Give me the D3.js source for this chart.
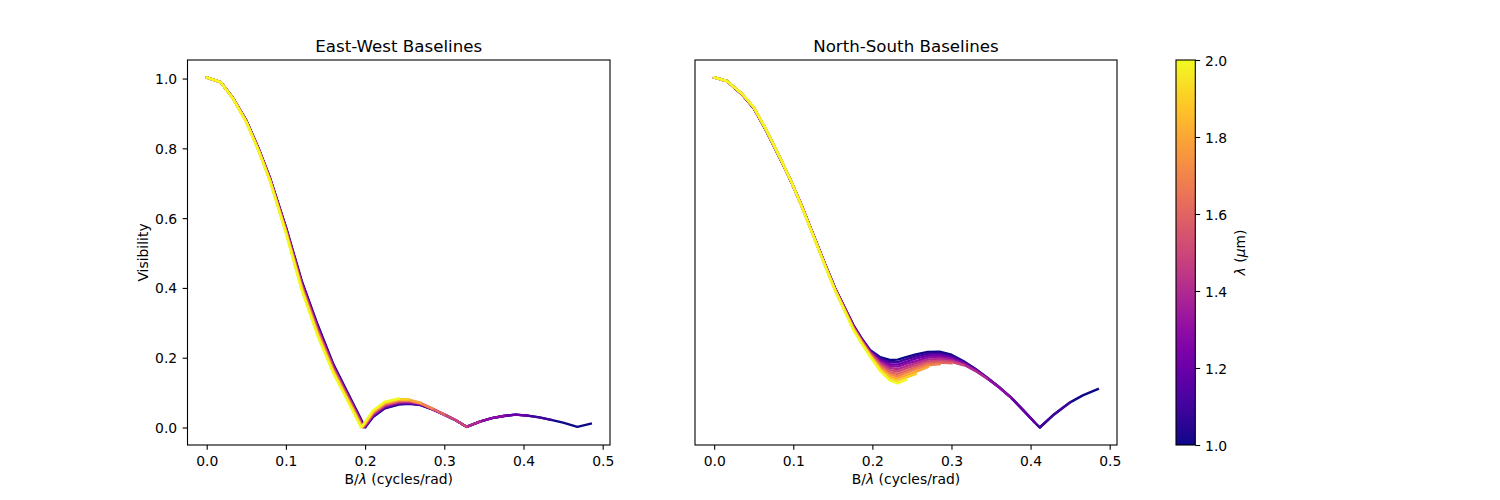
<!DOCTYPE html>
<html>
<head>
<meta charset="utf-8">
<script src="https://cdn.jsdelivr.net/npm/d3@7"></script>
<style>
  body { margin: 0; background: #fff; }
  svg text { font-family: "DejaVu Sans", sans-serif; fill: #000; }
</style>
</head>
<body>
<svg id="chart"></svg>
<script>
//Wavelengths of the plotted curves (um), one line each
const wavelengths = [1.0, 1.1, 1.2, 1.3, 1.4, 1.5, 1.6, 1.7, 1.8, 1.9, 2.0];

//East-West: spatial frequency grid (cycles/rad) and visibility per wavelength
//rows get shorter for longer wavelengths (B/lambda range shrinks)
const ewFreq = [0, 0.0175, 0.033, 0.05, 0.066, 0.08, 0.1, 0.12, 0.14, 0.16, 0.175, 0.185, 0.193, 0.195, 0.1975, 0.2,
    0.21, 0.225, 0.2425, 0.255, 0.27, 0.285, 0.3, 0.315, 0.328, 0.345, 0.36, 0.375, 0.39, 0.405, 0.42, 0.435, 0.45, 0.468, 0.485];
const ewVis = [
    [1.003,0.990,0.945,0.880,0.797,0.715,0.575,0.420,0.295,0.181,0.113,0.068,0.032,0.023,0.011,0.000,0.030,0.055,0.066,0.068,0.064,0.052,0.037,0.020,0.002,0.017,0.027,0.033,0.037,0.034,0.029,0.022,0.014,0.002,0.011],
    [1.003,0.990,0.945,0.880,0.796,0.714,0.573,0.417,0.292,0.178,0.111,0.066,0.029,0.020,0.009,0.002,0.032,0.057,0.068,0.069,0.065,0.052,0.037,0.020,0.002,0.017,0.027,0.033,0.037,0.034,0.029,0.022],
    [1.003,0.990,0.945,0.879,0.796,0.713,0.571,0.415,0.289,0.176,0.108,0.063,0.027,0.018,0.007,0.003,0.034,0.059,0.069,0.071,0.066,0.053,0.037,0.020,0.002,0.017,0.027,0.033,0.037,0.034],
    [1.003,0.990,0.944,0.879,0.795,0.712,0.570,0.412,0.285,0.173,0.106,0.061,0.025,0.016,0.005,0.005,0.036,0.061,0.071,0.072,0.067,0.053,0.037,0.020,0.002,0.017,0.027,0.033],
    [1.003,0.990,0.944,0.878,0.794,0.711,0.568,0.409,0.282,0.171,0.103,0.059,0.023,0.014,0.002,0.006,0.038,0.063,0.073,0.074,0.068,0.053,0.037,0.020,0.002,0.017],
    [1.003,0.990,0.944,0.878,0.794,0.710,0.566,0.407,0.279,0.168,0.101,0.057,0.020,0.011,0.000,0.008,0.040,0.065,0.075,0.075,0.069,0.054,0.037,0.020,0.002],
    [1.003,0.990,0.944,0.877,0.793,0.709,0.564,0.404,0.276,0.165,0.099,0.054,0.018,0.009,0.002,0.009,0.041,0.066,0.076,0.077,0.069,0.054,0.037],
    [1.003,0.990,0.944,0.877,0.792,0.708,0.562,0.401,0.273,0.163,0.096,0.052,0.016,0.007,0.003,0.011,0.043,0.068,0.078,0.078,0.070,0.054],
    [1.003,0.990,0.943,0.876,0.791,0.707,0.561,0.398,0.269,0.160,0.094,0.050,0.014,0.005,0.005,0.012,0.045,0.070,0.080,0.080,0.071],
    [1.003,0.990,0.943,0.876,0.791,0.706,0.559,0.396,0.266,0.158,0.091,0.047,0.011,0.002,0.006,0.014,0.047,0.072,0.081,0.081],
    [1.003,0.990,0.943,0.875,0.790,0.705,0.557,0.393,0.263,0.155,0.089,0.045,0.009,0.000,0.008,0.016,0.049,0.074,0.083]
];

//North-South: same layout
const nsFreq = [0, 0.016, 0.035, 0.05, 0.066, 0.083, 0.096, 0.11, 0.125, 0.14, 0.153, 0.165, 0.176, 0.187, 0.197, 0.21,
    0.222, 0.232, 0.2425, 0.255, 0.27, 0.285, 0.3, 0.315, 0.33, 0.345, 0.36, 0.375, 0.39, 0.405, 0.4116, 0.43, 0.45, 0.466, 0.485];
const nsVis = [
    [1.003,0.993,0.955,0.915,0.850,0.773,0.712,0.640,0.555,0.470,0.400,0.345,0.295,0.255,0.224,0.203,0.195,0.196,0.203,0.211,0.218,0.219,0.210,0.192,0.170,0.145,0.118,0.088,0.053,0.017,0.002,0.040,0.074,0.094,0.112],
    [1.003,0.993,0.955,0.915,0.850,0.773,0.712,0.640,0.555,0.470,0.399,0.344,0.294,0.254,0.222,0.199,0.189,0.189,0.197,0.205,0.213,0.214,0.206,0.190,0.169,0.144,0.118,0.088,0.053,0.017,0.002,0.040,0.074],
    [1.003,0.993,0.955,0.916,0.851,0.773,0.712,0.640,0.554,0.469,0.399,0.343,0.292,0.252,0.220,0.195,0.183,0.182,0.190,0.199,0.207,0.209,0.202,0.187,0.167,0.143,0.117,0.088,0.053,0.017],
    [1.003,0.993,0.956,0.916,0.851,0.774,0.712,0.639,0.554,0.469,0.398,0.342,0.291,0.251,0.218,0.191,0.178,0.176,0.184,0.192,0.202,0.204,0.198,0.185,0.166,0.143,0.117,0.088],
    [1.003,0.993,0.956,0.916,0.851,0.774,0.712,0.639,0.554,0.468,0.397,0.341,0.289,0.249,0.216,0.187,0.172,0.169,0.177,0.186,0.196,0.199,0.194,0.182,0.164,0.142],
    [1.003,0.993,0.956,0.917,0.852,0.774,0.713,0.639,0.553,0.468,0.397,0.340,0.288,0.248,0.215,0.183,0.166,0.162,0.171,0.180,0.191,0.193,0.190,0.180],
    [1.003,0.993,0.956,0.917,0.852,0.774,0.713,0.639,0.553,0.467,0.396,0.339,0.287,0.246,0.213,0.179,0.160,0.155,0.164,0.174,0.186,0.188,0.186],
    [1.003,0.993,0.956,0.917,0.852,0.774,0.713,0.639,0.553,0.467,0.395,0.338,0.285,0.245,0.211,0.175,0.154,0.148,0.158,0.168,0.180,0.183],
    [1.003,0.993,0.957,0.917,0.852,0.775,0.713,0.638,0.553,0.466,0.394,0.337,0.284,0.243,0.209,0.171,0.149,0.142,0.151,0.161,0.175],
    [1.003,0.993,0.957,0.918,0.853,0.775,0.713,0.638,0.552,0.466,0.394,0.336,0.282,0.242,0.207,0.167,0.143,0.135,0.145,0.155],
    [1.003,0.993,0.957,0.918,0.853,0.775,0.713,0.638,0.552,0.465,0.393,0.335,0.281,0.240,0.205,0.163,0.137,0.128,0.138]
];

//Tick values
const xTicks = [0.0, 0.1, 0.2, 0.3, 0.4, 0.5];
const yTicks = [0.0, 0.2, 0.4, 0.6, 0.8, 1.0];
const cbTicks = [1.0, 1.2, 1.4, 1.6, 1.8, 2.0];

const width = 1500;
const height = 500;
const plotTop = 60;
const plotBottom = 445;
const tickLen = 4.86;
const lineW = 2.4;

const svg = d3.select("#chart")
    .attr("width", width)
    .attr("height", height);

svg.append("rect").attr("width", width).attr("height", height).attr("fill", "#fff");

//colour by wavelength
const colour = d3.scaleSequential(d3.interpolatePlasma).domain([1, 2]);

const panels = [
    {title: "East-West Baselines", freq: ewFreq, vis: ewVis, x0: 187.5, x1: 610, showY: true},
    {title: "North-South Baselines", freq: nsFreq, vis: nsVis, x0: 695, x1: 1117, showY: false}
];

//matplotlib style 5% margins around the data
function padded(lo, hi) {
    const m = (hi - lo) * 0.05;
    return [lo - m, hi + m];
}

panels.forEach(function (p) {
    const allVis = p.vis.flat();
    const scaleX = d3.scaleLinear()
        .domain(padded(0, d3.max(p.freq)))
        .range([p.x0, p.x1]);
    const scaleY = d3.scaleLinear()
        .domain(padded(d3.min(allVis), d3.max(allVis)))
        .range([plotBottom, plotTop]);

    const g = svg.append("g");

    //Lines, short wavelength first so yellow ends on top
    const line = d3.line()
        .x((d, i) => scaleX(p.freq[i]))
        .y(d => scaleY(d));

    g.selectAll("path.vis")
        .data(p.vis)
        .enter()
        .append("path")
        .attr("class", "vis")
        .attr("d", line)
        .attr("fill", "none")
        .attr("stroke", (d, i) => colour(wavelengths[i]))
        .attr("stroke-width", lineW)
        .attr("stroke-linejoin", "round")
        .attr("stroke-linecap", "square");

    //Frame
    g.append("rect")
        .attr("x", p.x0)
        .attr("y", plotTop)
        .attr("width", p.x1 - p.x0)
        .attr("height", plotBottom - plotTop)
        .attr("fill", "none")
        .attr("stroke", "#000")
        .attr("stroke-width", 1.1);

    //Bottom axis
    const xAxis = g.append("g")
        .attr("transform", "translate(0," + plotBottom + ")")
        .call(d3.axisBottom(scaleX).tickValues(xTicks).tickSize(tickLen).tickPadding(6.6).tickFormat(d3.format(".1f")));
    xAxis.select(".domain").remove();
    xAxis.selectAll("line").attr("stroke-width", 1.1);
    xAxis.selectAll("text").style("font-size", "13.9px").attr("font-family", null);

    //Left axis only on first panel
    if (p.showY) {
        const yAxis = g.append("g")
            .attr("transform", "translate(" + p.x0 + ",0)")
            .call(d3.axisLeft(scaleY).tickValues(yTicks).tickSize(tickLen).tickPadding(5.5).tickFormat(d3.format(".1f")));
        yAxis.select(".domain").remove();
        yAxis.selectAll("line").attr("stroke-width", 1.1);
        yAxis.selectAll("text").style("font-size", "13.9px").attr("font-family", null).attr("dy", "0.36em");

        g.append("text")
            .attr("transform", "translate(142.5," + ((plotTop + plotBottom) / 2) + ")rotate(-90)")
            .attr("text-anchor", "middle")
            .attr("dominant-baseline", "central")
            .style("font-size", "13.9px")
            .text("Visibility");
    }

    //Title
    g.append("text")
        .attr("x", (p.x0 + p.x1) / 2)
        .attr("y", 51.7)
        .attr("text-anchor", "middle")
        .style("font-size", "16.67px")
        .text(p.title);

    //X label
    const xl = g.append("text")
        .attr("x", (p.x0 + p.x1) / 2)
        .attr("y", 484)
        .attr("text-anchor", "middle")
        .style("font-size", "13.9px");
    xl.append("tspan").text("B/");
    xl.append("tspan").style("font-style", "italic").text("λ");
    xl.append("tspan").text(" (cycles/rad)");
});

/*****************/
//Colorbar
const cbX = 1176;
const cbW = 19.3;
const cbScale = d3.scaleLinear().domain([1, 2]).range([plotBottom, plotTop]);

const grad = svg.append("defs").append("linearGradient")
    .attr("id", "plasma")
    .attr("x1", 0).attr("y1", 1)
    .attr("x2", 0).attr("y2", 0);
d3.range(0, 1.0001, 0.05).forEach(function (t) {
    grad.append("stop")
        .attr("offset", t)
        .attr("stop-color", d3.interpolatePlasma(t));
});

svg.append("rect")
    .attr("x", cbX)
    .attr("y", plotTop)
    .attr("width", cbW)
    .attr("height", plotBottom - plotTop)
    .attr("fill", "url(#plasma)")
    .attr("stroke", "#000")
    .attr("stroke-width", 1.1);

const cbAxis = svg.append("g")
    .attr("transform", "translate(" + (cbX + cbW) + ",0)")
    .call(d3.axisRight(cbScale).tickValues(cbTicks).tickSize(tickLen).tickPadding(4.9).tickFormat(d3.format(".1f")));
cbAxis.select(".domain").remove();
cbAxis.selectAll("line").attr("stroke-width", 1.1);
cbAxis.selectAll("text").style("font-size", "13.9px").attr("font-family", null).attr("dy", "0.36em");

const cbl = svg.append("text")
    .attr("transform", "translate(1240," + ((plotTop + plotBottom) / 2) + ")rotate(-90)")
    .attr("text-anchor", "middle")
    .attr("dominant-baseline", "central")
    .style("font-size", "13.9px");
cbl.append("tspan").style("font-style", "italic").text("λ");
cbl.append("tspan").text(" (");
cbl.append("tspan").style("font-style", "italic").text("μ");
cbl.append("tspan").text("m)");
</script>
</body>
</html>
